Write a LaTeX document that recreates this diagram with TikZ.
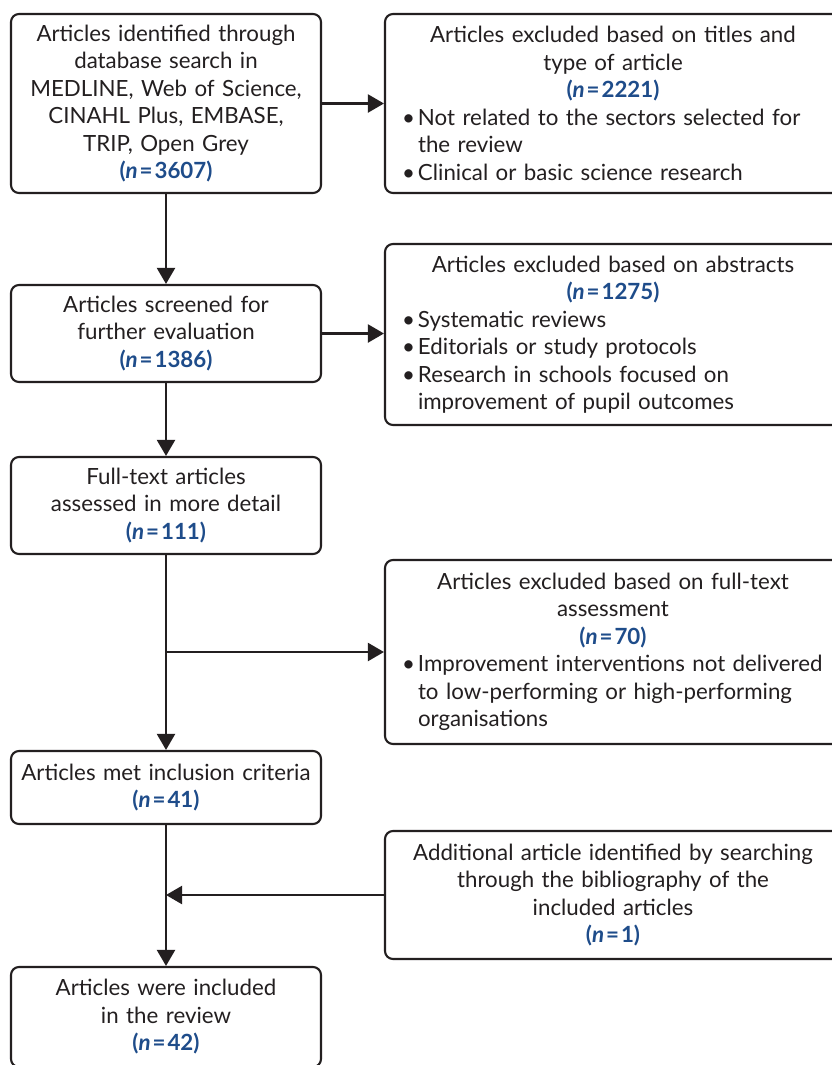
\documentclass[tikz,border=0pt]{standalone}
\usepackage{fontspec}
\setmainfont{Lato}
\usetikzlibrary{arrows.meta}
\definecolor{ink}{RGB}{35,31,32}
\definecolor{nblue}{RGB}{30,76,138}
\newcommand\nv[1]{{\color{nblue}\bfseries(\textit{n}\kern2pt=\kern2pt#1)}}
\newcommand\bitem{\par\hspace*{9pt}\makebox[16pt][l]{•}}
\newcommand\bcont{\par\hspace*{25pt}}
\begin{document}
\begin{tikzpicture}[x=1pt,y=-1pt,
  every node/.style={font=\fontsize{22.3}{27.5}\selectfont, text=ink},
  lbox/.style={draw=ink, line width=2.1pt, rounded corners=8pt, minimum width=310pt, text width=304pt, align=center, inner sep=0pt},
  rbox/.style={draw=ink, line width=2.1pt, rounded corners=8pt, minimum width=456pt, text width=440pt, align=left, inner sep=0pt},
  arr/.style={draw=ink, line width=2.1pt, -{Triangle[length=16pt,width=18pt]}}]
\fill[white] (0,0) rectangle (831,1065);
\useasboundingbox (0,0) rectangle (831,1065);

\node[lbox, minimum height=179pt] (b1) at (166,103.5) {Articles identified through\\database search in\\MEDLINE, Web of Science,\\CINAHL Plus, EMBASE,\\TRIP, Open Grey\\\nv{3607}};
\node[rbox, minimum height=179pt] (b2) at (613,103.5) {{\centering Articles excluded based on titles and\\type of article\\\nv{2221}\par}\bitem Not related to the sectors selected for\bcont the review\bitem Clinical or basic science research};

\node[lbox, minimum height=97pt] (b3) at (166,333.5) {Articles screened for\\further evaluation\\\nv{1386}};
\node[rbox, minimum height=181pt] (b4) at (613,334.5) {{\centering Articles excluded based on abstracts\\\nv{1275}\par}\bitem Systematic reviews\bitem Editorials or study protocols\bitem Research in schools focused on\bcont improvement of pupil outcomes};

\node[lbox, minimum height=97pt] (b5) at (166,505.5) {Full-text articles\\assessed in more detail\\\nv{111}};
\node[rbox, minimum height=184pt] (b6) at (613,652) {{\centering Articles excluded based on full-text\\assessment\\\nv{70}\par}\bitem Improvement interventions not delivered\bcont to low-performing or high-performing\bcont organisations};

\node[lbox, minimum height=73pt] (b7) at (166,787.5) {Articles met inclusion criteria\\\nv{41}};
\node[rbox, minimum height=128pt, align=center] (b8) at (613,895) {Additional article identified by searching\\through the bibliography of the\\included articles\\\nv{1}};

\node[lbox, minimum height=100pt] (b9) at (166,1017) {Articles were included\\in the review\\\nv{42}};

\draw[arr] (b1) -- (b3);
\draw[arr] (b1.east) -- (b1.east -| b2.west);
\draw[arr] (b3) -- (b5);
\draw[arr] (b3.east) -- (b3.east -| b4.west);
\draw[arr] (b5) -- (b7);
\coordinate (j1) at (b5.south |- b6.west);
\draw[arr] (j1) -- (b6.west);
\draw[arr] (b7) -- (b9);
\coordinate (j2) at (b7.south |- b8.west);
\draw[arr] (b8.west) -- (j2);
\end{tikzpicture}
\end{document}
